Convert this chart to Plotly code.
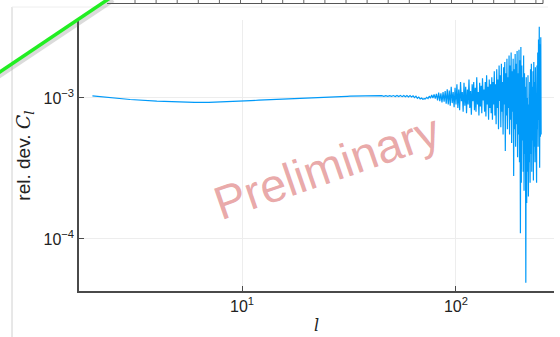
import plotly.graph_objects as go

# multipole index l
ell = list(range(2, 251))

# relative deviation of C_l, in units of 1e-3
rel_dev_e3 = [
    # l = 2 .. 40
    1.035, 0.975, 0.950, 0.937, 0.932, 0.932, 0.936, 0.942, 0.950, 0.957,
    0.964, 0.970, 0.976, 0.982, 0.987, 0.992, 0.996, 1.000, 1.004, 1.008,
    1.011, 1.014, 1.017, 1.019, 1.021, 1.023, 1.025, 1.026, 1.027, 1.028,
    1.029, 1.030, 1.030, 1.031, 1.031, 1.032, 1.032, 1.032, 1.033,
    # l = 41 .. 60
    1.036, 1.030, 1.037, 1.029, 1.038, 1.028, 1.038, 1.027, 1.039, 1.027,
    1.040, 1.025, 1.041, 1.024, 1.040, 1.022, 1.042, 1.020, 1.041, 1.018,
    # l = 61 .. 80
    1.040, 1.015, 1.035, 1.005, 1.030, 0.995, 1.015, 0.985, 1.000, 0.980,
    0.990, 0.985, 1.010, 0.990, 1.030, 0.995, 1.050, 1.000, 1.060, 0.990,
    # l = 81 .. 100
    1.070, 0.960, 1.090, 0.950, 1.080, 0.930, 1.100, 0.940, 1.120, 0.910,
    1.150, 0.900, 1.130, 0.880, 1.200, 0.920, 1.100, 0.860, 1.180, 0.900,
    # l = 101 .. 145
    1.250, 0.850, 1.150, 0.820, 1.300, 0.950, 1.100, 0.800, 1.280, 0.880,
    1.200, 0.780, 1.150, 0.900, 1.350, 0.850, 1.120, 0.760, 1.250, 0.950,
    1.300, 0.820, 1.180, 0.800, 1.400, 0.900, 1.100, 0.750, 1.280, 0.870,
    1.220, 0.780, 1.380, 0.960, 1.150, 0.800, 1.300, 0.740, 1.450, 0.900,
    1.200, 0.700, 1.350, 0.850, 1.250,
    # l = 146 .. 200
    0.780, 1.400, 0.700, 1.300, 0.900, 1.550, 0.750, 1.250, 0.650, 1.600,
    0.850, 1.350, 0.600, 1.700, 0.950, 1.450, 0.620, 1.750, 0.800, 1.300,
    0.550, 1.650, 0.900, 1.800, 0.420, 1.500, 0.750, 1.900, 0.600, 1.400,
    0.850, 2.000, 0.550, 1.700, 0.700, 2.100, 0.480, 1.550, 0.800, 1.900,
    0.280, 1.600, 0.600, 2.050, 0.450, 1.750, 0.650, 2.150, 0.380, 1.500,
    0.550, 2.200, 0.350, 1.850, 0.110,
    # l = 201 .. 250
    2.300, 0.250, 1.700, 0.500, 1.400, 0.300, 2.000, 0.220, 1.500, 0.400,
    1.200, 0.049, 1.400, 0.180, 1.000, 0.300, 1.450, 0.200, 0.900, 0.350,
    1.300, 0.250, 1.600, 0.400, 1.750, 0.300, 1.200, 0.500, 1.550, 0.260,
    1.800, 0.450, 1.300, 0.350, 1.650, 0.550, 1.100, 0.250, 1.700, 0.600,
    2.100, 0.450, 2.600, 0.700, 3.200, 0.320, 2.400, 0.530, 2.700, 0.550,
]
rel_dev = [v * 1e-3 for v in rel_dev_e3]

x_tick_vals = [10, 100]
x_tick_text = ["10<sup>1</sup>", "10<sup>2</sup>"]
y_tick_vals = [1e-4, 1e-3]
y_tick_text = ["10<sup>\u22124</sup>", "10<sup>\u22123</sup>"]

W, H = 560, 337
ML, MR, MT, MB = 79, 6, 20, 46
PW, PH = W - ML - MR, H - MT - MB


def px(xp):
    return (xp - ML) / PW


def py(yp):
    return (H - MB - yp) / PH


fig = go.Figure()
fig.add_trace(go.Scatter(
    x=ell, y=rel_dev, mode="lines",
    line=dict(color="#009af9", width=1.2),
    showlegend=False, hoverinfo="skip",
))

axis_common = dict(
    type="log", showline=True, linecolor="#4a4a4a", linewidth=1.5,
    ticks="inside", ticklen=5, tickcolor="#4a4a4a", tickwidth=1,
    showgrid=True, gridcolor="#ededed", gridwidth=1, zeroline=False,
    tickfont=dict(family="Liberation Sans", size=16, color="#222"),
    tickmode="array",
)

fig.update_xaxes(
    **axis_common, range=[0.2383, 2.458],
    tickvals=x_tick_vals, ticktext=x_tick_text,
    title=dict(text="<i>l</i>", font=dict(family="DejaVu Serif", size=16, color="#222"),
               standoff=6),
)
fig.update_yaxes(
    **axis_common, range=[-4.369, -2.447],
    tickvals=y_tick_vals, ticktext=y_tick_text,
    title=dict(
        text="rel. dev. <span style=\"font-family:'DejaVu Serif'\"><i>C</i><sub><i>l</i></sub></span>",
        font=dict(family="Liberation Sans", size=19, color="#222"),
        standoff=8,
    ),
)

shapes = []
# page frame lines
shapes.append(dict(type="line", xref="paper", yref="paper",
                   x0=px(12), y0=py(7), x1=px(12), y1=py(337),
                   line=dict(color="#d0d0d0", width=1)))
shapes.append(dict(type="line", xref="paper", yref="paper",
                   x0=px(12), y0=py(7), x1=px(548), y1=py(7),
                   line=dict(color="#eeeeee", width=1)))
# ruler strip along the top edge
shapes.append(dict(type="line", xref="paper", yref="paper",
                   x0=px(107), y0=py(3.5), x1=px(543), y1=py(3.5),
                   line=dict(color="#555555", width=1)))
tick_x = 135.0
while tick_x < 540:
    shapes.append(dict(type="line", xref="paper", yref="paper",
                       x0=px(tick_x), y0=py(0), x1=px(tick_x), y1=py(3.5),
                       line=dict(color="#666666", width=1)))
    tick_x += 21.1
shapes.append(dict(type="line", xref="paper", yref="paper",
                   x0=px(543), y0=py(0), x1=px(543), y1=py(3.5),
                   line=dict(color="#555555", width=1)))
# green marker stroke with its shadow
shapes.append(dict(type="line", xref="paper", yref="paper",
                   x0=px(-4), y0=py(78), x1=px(113), y1=py(0),
                   line=dict(color="rgba(110,110,110,0.25)", width=5)))
shapes.append(dict(type="line", xref="paper", yref="paper",
                   x0=px(-4), y0=py(74.5), x1=px(110), y1=py(-2),
                   line=dict(color="#22ee22", width=3.5)))

fig.update_layout(
    width=W, height=H,
    margin=dict(l=ML, r=MR, t=MT, b=MB),
    paper_bgcolor="white", plot_bgcolor="white",
    shapes=shapes,
    annotations=[dict(
        text="Preliminary", xref="paper", yref="paper",
        x=px(327), y=py(166), showarrow=False, textangle=-19,
        font=dict(family="Liberation Sans", size=47, color="rgba(214,95,95,0.55)"),
    )],
)

fig.write_html("out.html")
